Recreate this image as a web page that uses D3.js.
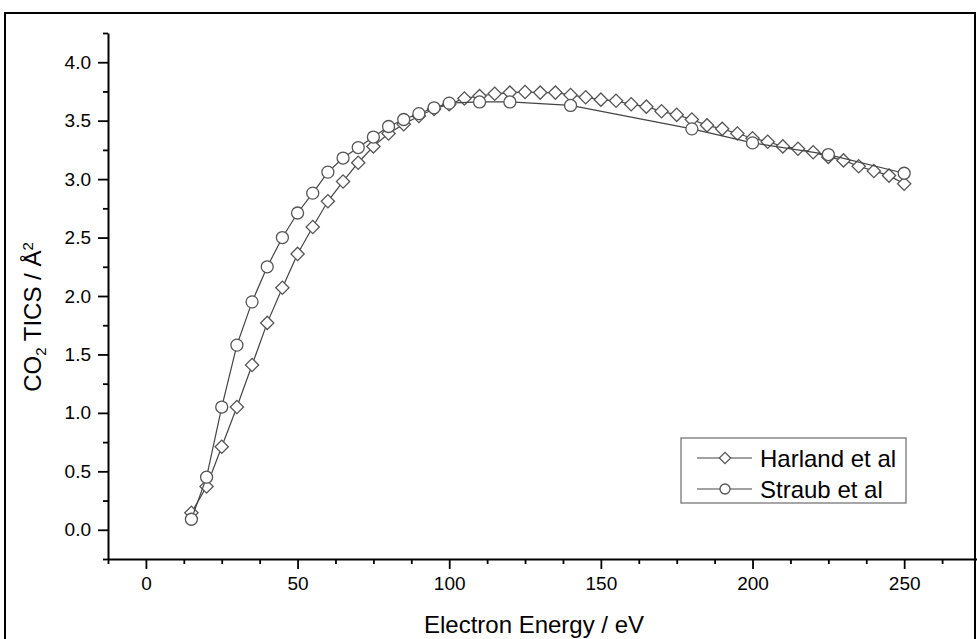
<!DOCTYPE html>
<html><head><meta charset="utf-8">
<script src="https://cdn.jsdelivr.net/npm/d3@7"></script>
<style>body{margin:0;background:#fff}svg{display:block}text{font-family:Arial,"Liberation Sans",sans-serif;fill:#000}</style>
</head><body><svg id="c" width="977" height="639"></svg>
<script>
const harlandX = [15,20,25,30,35,40,45,50,55,60,65,70,75,80,85,90,95,100,105,110,115,120,125,130,135,140,145,150,155,160,165,170,175,180,185,190,195,200,205,210,215,220,225,230,235,240,245,250];
const harlandY = [0.145,0.37,0.71,1.05,1.41,1.77,2.07,2.36,2.59,2.81,2.98,3.14,3.28,3.39,3.47,3.54,3.60,3.64,3.69,3.71,3.73,3.74,3.745,3.74,3.74,3.72,3.70,3.68,3.67,3.64,3.62,3.58,3.55,3.51,3.46,3.43,3.39,3.35,3.32,3.28,3.26,3.23,3.19,3.16,3.11,3.07,3.03,2.96];
const straubX = [15,20,25,30,35,40,45,50,55,60,65,70,75,80,85,90,95,100,110,120,140,180,200,225,250];
const straubY = [0.09,0.45,1.05,1.58,1.95,2.25,2.50,2.71,2.88,3.06,3.18,3.27,3.36,3.45,3.51,3.56,3.61,3.65,3.66,3.66,3.63,3.43,3.31,3.21,3.05];
const xTicks = [0,50,100,150,200,250];
const yTicks = [0.0,0.5,1.0,1.5,2.0,2.5,3.0,3.5,4.0];
const seriesNames = ["Harland et al","Straub et al"];

const svg = d3.select("#c");
const x = d3.scaleLinear().domain([-12.5,275]).range([108,980]);
const y = d3.scaleLinear().domain([-0.25,4.25]).range([559,33]);

svg.append("rect").attr("x",5).attr("y",13).attr("width",970).attr("height",640)
  .attr("fill","none").attr("stroke","#000").attr("stroke-width",2);

const xMinor = d3.range(-12.5,276,12.5).filter(v=>!xTicks.includes(v));
const yMinor = d3.range(-0.25,4.26,0.25).filter(v=>!yTicks.some(t=>Math.abs(t-v)<1e-6));
const gx = svg.append("g").attr("transform",`translate(0,${y(-0.25)})`);
gx.call(d3.axisBottom(x).tickValues(xMinor).tickSize(5).tickFormat(""));
gx.call(g=>g.select(".domain").remove());
svg.append("g").attr("transform",`translate(0,${y(-0.25)})`)
  .call(d3.axisBottom(x).tickValues(xTicks).tickSize(10).tickSizeOuter(0).tickPadding(8).tickFormat(d3.format("d")));
const gy = svg.append("g").attr("transform",`translate(${x(-12.5)},0)`);
gy.call(d3.axisLeft(y).tickValues(yMinor).tickSize(5).tickFormat(""));
gy.call(g=>g.select(".domain").remove());
svg.append("g").attr("transform",`translate(${x(-12.5)},0)`)
  .call(d3.axisLeft(y).tickValues(yTicks).tickSize(10).tickSizeOuter(0).tickPadding(7).tickFormat(d3.format(".1f")));
svg.selectAll(".tick line").attr("stroke","#000").attr("stroke-width",1.8);
svg.selectAll(".domain").attr("stroke","#000").attr("stroke-width",2);
svg.selectAll(".tick text").style("font-size","19px").attr("fill","#000");

const line = d3.line().x(d=>x(d[0])).y(d=>y(d[1]));
const diamond = d3.symbol().type(d3.symbolSquare).size(88);
function drawSeries(xs, ys, kind){
  const pts = xs.map((v,i)=>[v,ys[i]]);
  svg.append("path").datum(pts).attr("d",line).attr("fill","none").attr("stroke","#444").attr("stroke-width",1.2);
  const g = svg.append("g");
  if(kind==="d"){
    g.selectAll("path").data(pts).join("path").attr("d",diamond)
      .attr("transform",d=>`translate(${x(d[0])},${y(d[1])}) rotate(45)`)
      .attr("fill","#fff").attr("stroke","#555").attr("stroke-width",1.3);
  } else {
    g.selectAll("circle").data(pts).join("circle").attr("cx",d=>x(d[0])).attr("cy",d=>y(d[1])).attr("r",6)
      .attr("fill","#fff").attr("stroke","#555").attr("stroke-width",1.3);
  }
}
drawSeries(harlandX, harlandY, "d");
drawSeries(straubX, straubY, "c");

const lg = svg.append("g");
lg.append("rect").attr("x",681).attr("y",438).attr("width",225).attr("height",65)
  .attr("fill","#fff").attr("stroke","#777").attr("stroke-width",1.3);
[0,1].forEach(i=>{
  const cy = 458 + i*31;
  lg.append("line").attr("x1",697).attr("x2",752).attr("y1",cy).attr("y2",cy).attr("stroke","#444").attr("stroke-width",1.2);
  if(i===0) lg.append("path").attr("d",d3.symbol().type(d3.symbolSquare).size(64)).attr("transform",`translate(725,${cy}) rotate(45)`).attr("fill","#fff").attr("stroke","#555").attr("stroke-width",1.3);
  else lg.append("circle").attr("cx",725).attr("cy",cy).attr("r",5).attr("fill","#fff").attr("stroke","#555").attr("stroke-width",1.3);
  lg.append("text").attr("x",760).attr("y",cy).attr("dy","0.36em").style("font-size","24px").text(seriesNames[i]);
});

svg.append("text").attr("x",534).attr("y",633).attr("text-anchor","middle").style("font-size","24px").text("Electron Energy / eV");
const yt = svg.append("text").attr("transform","translate(41,317) rotate(-90)").attr("text-anchor","middle").style("font-size","24px");
yt.append("tspan").text("CO");
yt.append("tspan").attr("baseline-shift","-30%").style("font-size","15px").text("2");
yt.append("tspan").text(" TICS / Å");
yt.append("tspan").attr("baseline-shift","55%").style("font-size","15px").text("2");
</script></body></html>
